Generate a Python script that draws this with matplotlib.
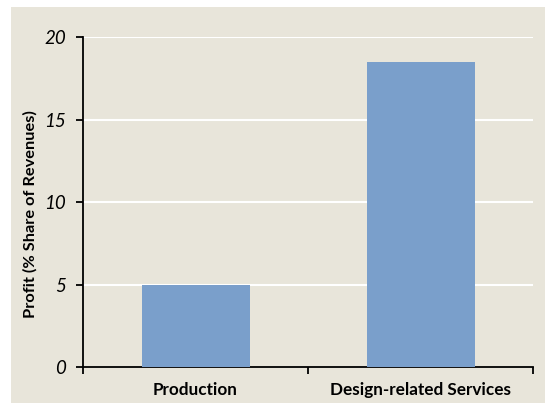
import matplotlib.pyplot as plt
import matplotlib.patches as patches

# data
categories = ['Production', 'Design-related Services']
profit = [5.0, 18.5]
yticks = [0, 5, 10, 15, 20]

plt.rcParams['font.family'] = ['Lato', 'DejaVu Sans']

fig = plt.figure(figsize=(5.45, 4.03), dpi=100)
fig.patch.set_facecolor('white')
# beige chart area, behind the axes
fig.patches.append(patches.Rectangle((11/545, 0), 1 - 11/545, 1 - 7/403,
                                     transform=fig.transFigure, facecolor='#E8E5DA',
                                     edgecolor='none', zorder=-5))

ax = fig.add_axes([83/545, 1 - 367/403, 450/545, 330/403])
ax.set_facecolor('none')

x = range(len(categories))
ax.bar(x, profit, width=0.48, color='#7A9FCB', zorder=3)

ax.set_xlim(-0.5, 1.5)
ax.set_ylim(0, 20)
ax.set_yticks(yticks)
ax.set_yticklabels([str(t) for t in yticks], fontstyle='italic', fontsize=13.5)
for t in yticks[1:]:
    ax.axhline(t, color='white', lw=1.5, zorder=1)

ax.set_xticks([-0.5, 0.5, 1.5])
ax.set_xticklabels([])
ax.set_xticks(list(x), minor=True)
ax.set_xticklabels(categories, minor=True, fontweight='bold', fontsize=12.3)
ax.tick_params(axis='x', which='minor', length=0, pad=11)
ax.tick_params(axis='x', which='major', direction='out', length=5, width=1.3)
ax.tick_params(axis='y', direction='out', length=5, width=1.3, pad=7)

for s in ['top', 'right']:
    ax.spines[s].set_visible(False)
ax.spines['left'].set_linewidth(1.3)
ax.spines['bottom'].set_linewidth(1.3)

ax.set_ylabel('Profit (% Share of Revenues)', fontweight='bold', fontsize=11.8)
ax.yaxis.set_label_coords(-0.102, 0.464)

fig.savefig('out.png', dpi=100)
